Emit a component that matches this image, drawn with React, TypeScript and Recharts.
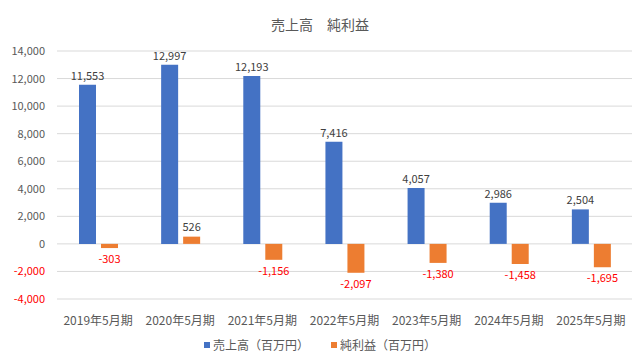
import { BarChart, Bar, XAxis, YAxis, CartesianGrid, LabelList } from "recharts";

const categories = ["2019年5月期", "2020年5月期", "2021年5月期", "2022年5月期", "2023年5月期", "2024年5月期", "2025年5月期"];
const sales = [11553, 12997, 12193, 7416, 4057, 2986, 2504];
const netIncome = [-303, 526, -1156, -2097, -1380, -1458, -1695];
const yTicks = [-4000, -2000, 0, 2000, 4000, 6000, 8000, 10000, 12000, 14000];

const data = categories.map((c, i) => ({ name: c, sales: sales[i], net: netIncome[i] }));

const FONT = "'Noto Sans CJK JP', 'Noto Sans', sans-serif";
const fmt = (v: number) => v.toLocaleString("en-US");

const YTick = (props: any) => {
  const { x, y, payload } = props;
  const v = payload.value as number;
  return (
    <text x={x} y={y} dy={4} textAnchor="end" fontSize={11} fontFamily={FONT} fill={v < 0 ? "#ff0000" : "#595959"}>
      {fmt(v)}
    </text>
  );
};

const NetLabel = (props: any) => {
  const { x, y, width, height, value } = props;
  const neg = value < 0;
  const cx = x + width / 2;
  const top = Math.min(y, y + height);
  const bottom = Math.max(y, y + height);
  const ty = neg ? bottom + 15 : top - 6;
  return (
    <text x={cx} y={ty} textAnchor="middle" fontSize={11} fontFamily={FONT} fill={neg ? "#ff0000" : "#404040"}>
      {fmt(value)}
    </text>
  );
};

export default function App() {
  return (
    <div style={{ position: "relative", width: 640, height: 363, margin: -8, background: "#fff", overflow: "hidden" }}>
      <div style={{ position: "absolute", left: 5, top: 5, width: 628, height: 350, border: "1px solid #d9d9d9" }} />
      <div style={{ position: "absolute", top: 14, width: 640, textAlign: "center", fontFamily: FONT, fontSize: 14, color: "#595959" }}>
        売上高　純利益
      </div>
      <div style={{ position: "absolute", left: 0, top: 0 }}>
        <BarChart width={640} height={363} data={data} margin={{ top: 51, right: 8, left: 0, bottom: 34 }} barGap={5} barSize={17}>
          <CartesianGrid vertical={false} stroke="#d9d9d9" />
          <XAxis
            dataKey="name"
            axisLine={false}
            tickLine={false}
            tick={{ fontSize: 12, fontFamily: FONT, fill: "#595959" }}
            height={30}
            tickMargin={11}
            interval={0}
          />
          <YAxis
            width={57}
            domain={[-4000, 14000]}
            ticks={yTicks}
            interval={0}
            axisLine={false}
            tickLine={false}
            tick={<YTick />}
            tickMargin={6}
          />
          <Bar dataKey="sales" fill="#4472C4" isAnimationActive={false}>
            <LabelList dataKey="sales" position="top" fontSize={11} fontFamily={FONT} fill="#404040" formatter={(v: any) => fmt(v)} offset={5} />
          </Bar>
          <Bar dataKey="net" fill="#ED7D31" isAnimationActive={false}>
            <LabelList dataKey="net" content={<NetLabel />} />
          </Bar>
        </BarChart>
      </div>
      <div style={{ position: "absolute", top: 336, width: 640, display: "flex", justifyContent: "center", gap: 22, fontFamily: FONT, fontSize: 12, color: "#595959" }}>
        <span style={{ display: "flex", alignItems: "center", gap: 3 }}>
          <span style={{ width: 6, height: 6, background: "#4472C4", display: "inline-block" }} />
          売上高（百万円）
        </span>
        <span style={{ display: "flex", alignItems: "center", gap: 3 }}>
          <span style={{ width: 6, height: 6, background: "#ED7D31", display: "inline-block" }} />
          純利益（百万円）
        </span>
      </div>
    </div>
  );
}
